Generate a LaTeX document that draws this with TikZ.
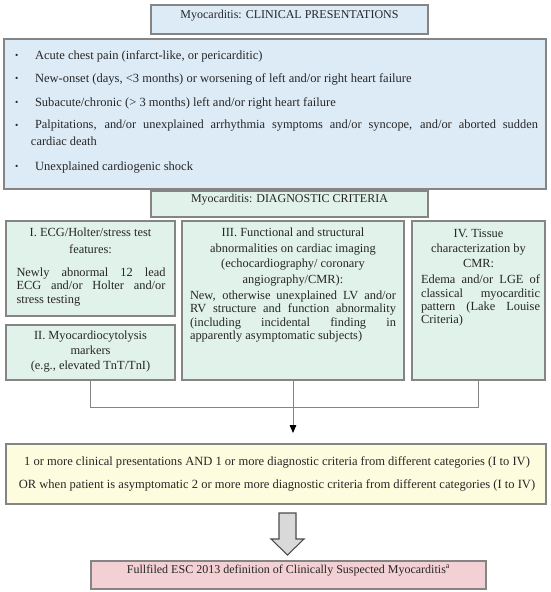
\documentclass[tikz,border=0pt]{standalone}
\usepackage{fontspec}
\setmainfont{Liberation Serif}
\usetikzlibrary{fit,arrows.meta,calc}
\definecolor{bord}{HTML}{858585}
\definecolor{txt}{HTML}{262626}
\definecolor{blueA}{HTML}{DDEBF7}
\definecolor{greenA}{HTML}{E0F2EA}
\definecolor{yelA}{HTML}{FDFCDF}
\definecolor{pinkA}{HTML}{F3D0D3}
\definecolor{arrowA}{HTML}{D9D9D9}
\begin{document}
\begin{tikzpicture}[x=0.75pt,y=-0.75pt,
  every node/.style={text=txt, inner sep=0pt, outer sep=0pt},
  boxbase/.style={draw=bord, line width=1.1pt, inner sep=0pt},
  bluebox/.style={boxbase, fill=blueA},
  greenbox/.style={boxbase, fill=greenA},
  yelbox/.style={boxbase, fill=yelA},
  pinkbox/.style={boxbase, fill=pinkA},
  ftxt/.style={font=\fontsize{9.4}{11}\selectfont},
  ttxt/.style={font=\fontsize{9}{11}\selectfont},
  hd/.style={align=center, anchor=north, font=\fontsize{9.3}{#1}\selectfont},
  para/.style={align=justify, anchor=north, font=\fontsize{9.3}{#1}\selectfont},
  bul/.style={anchor=base west, font=\fontsize{9.4}{11}\selectfont},
  dotb/.style={anchor=base west, font=\fontsize{7}{9}\selectfont},
  conn/.style={draw=bord, line width=0.6pt},
  tipstyle/.style={-{Triangle[width=5pt,length=6pt,color=black]}},
  blockarrow/.style={draw=black!70, line width=0.8pt, fill=arrowA}
]
\useasboundingbox (0,0) rectangle (550,592);

% clinical presentations
\node[bluebox, ttxt, fit={(151,5) (428,34)}] (t1) {Myocarditis: CLINICAL PRESENTATIONS};
\node[bluebox, fit={(4,39) (546,189)}] (clin) {};
\foreach \yy/\nm in {59.5/a,82.5/b,106/c,129/d,170/e}{
  \node[dotb] (dot\nm) at (15,\yy-0.5) {\textbullet};
}
\node[bul] (c1) at (35,59.5) {Acute chest pain (infarct-like, or pericarditic)};
\node[bul] (c2) at (35,82.5) {New-onset (days, <3 months) or worsening of left and/or right heart failure};
\node[bul] (c3) at (35,106) {Subacute/chronic (> 3 months) left and/or right heart failure};
\node[para=12.75, anchor=north west, text width=380.25pt] (c4) at (31,120) {\hspace*{3pt}Palpitations, and/or unexplained arrhythmia symptoms and/or syncope, and/or aborted sudden\linebreak cardiac death};
\node[bul] (c5) at (35,170) {Unexplained cardiogenic shock};

% diagnostic criteria
\node[greenbox, ttxt, fit={(151,191) (428,217)}] (t2) {Myocarditis: DIAGNOSTIC CRITERIA};

\node[greenbox, fit={(6,221) (175,316)}] (b1) {};
\node[hd=12.75] (b1h) at (90.5,228) {I. ECG/Holter/stress test\\features:};
\node[para=10, text width=111.75pt] (b1p) at (91,268) {Newly abnormal 12 lead\linebreak ECG and/or Holter and/or\linebreak stress testing};

\node[greenbox, fit={(6,325) (175,380)}] (b2) {};
\node[hd=11.25] (b2h) at (90.5,331) {II. Myocardiocytolysis\\markers\\(e.g., elevated TnT/TnI)};

\node[greenbox, fit={(182,221) (404,380)}] (b3) {};
\node[hd=11.6] (b3h) at (293,228) {III. Functional and structural\\abnormalities on cardiac imaging\\(echocardiography/ coronary\\angiography/CMR):};
\node[para=10, text width=154.5pt] (b3p) at (293,291) {New, otherwise unexplained LV and/or\linebreak RV structure and function abnormality\linebreak (including incidental finding in\linebreak apparently asymptomatic subjects)};

\node[greenbox, fit={(412,221) (545,380)}] (b4) {};
\node[hd=11.2] (b4h) at (478.5,229) {IV. Tissue\\characterization by\\CMR:};
\node[para=10, text width=89.25pt] (b4p) at (480.5,275) {Edema and/or LGE of\linebreak classical myocarditic\linebreak pattern (Lake Louise\linebreak Criteria)};

% result
\node[yelbox, fit={(6,444) (546,504)}] (yel) {};
\node[ftxt, anchor=center] (y1) at (277,462) {1 or more clinical presentations AND 1 or more diagnostic criteria from different categories (I to IV)};
\node[ftxt, anchor=center] (y2) at (277,485) {OR when patient is asymptomatic 2 or more more diagnostic criteria from different categories (I to IV)};

\node[pinkbox, ttxt, fit={(91,561) (486,589)}] (pink) {Fullfiled ESC 2013 definition of Clinically Suspected Myocarditis\textsuperscript{a}};

% connectors
\coordinate (lvl) at (0,407);
\coordinate (tip) at ($(b3.south |- yel.north)+(0,-11)$);
\draw[conn] (b2.south) -- (b2.south |- lvl) -- (b4.south |- lvl) -- (b4.south);
\draw[conn, tipstyle] (b3.south) -- (tip);

\draw[blockarrow] (279,513) -- (296,513) -- (296,539) -- (304,539) -- (287.5,555) -- (271,539) -- (279,539) -- cycle;
\end{tikzpicture}
\end{document}
